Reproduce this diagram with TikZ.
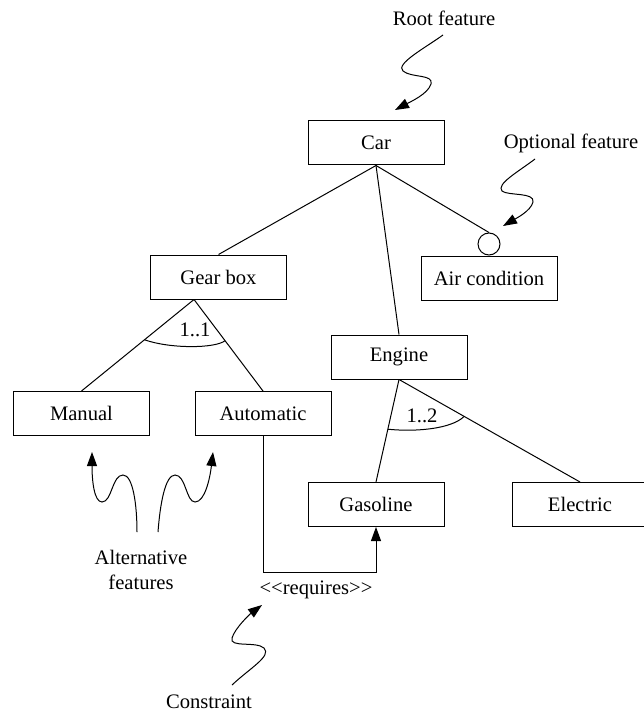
\documentclass[tikz,border=0pt]{standalone}
\usepackage{fontspec}
\setmainfont{Liberation Serif}
\usetikzlibrary{arrows.meta,calc}
\begin{document}
\begin{tikzpicture}[x=0.5pt,y=-0.5pt,
  font=\fontsize{10.3}{12.4}\selectfont,
  feature/.style={draw, line width=0.5pt, minimum width=68pt, minimum height=22pt, inner sep=0pt},
  optmark/.style={draw, line width=0.5pt, circle, minimum size=11pt, inner sep=0pt},
  link/.style={line width=0.5pt},
  note/.style={inner sep=0pt},
  pointer/.style={line width=0.5pt, -{Triangle[length=7pt,width=5pt]}},
]
\useasboundingbox (0,0) rectangle (643,711);

% feature boxes
\node[feature] (car) at (376,143) {Car};
\node[feature] (gb)  at (218.5,277) {Gear box};
\node[feature] (ac)  at (489,278) {Air condition};
\node[optmark] (opt) at (489,244) {};
\node[feature] (eng) at (399,357) {Engine};
\node[feature] (man) at (81.5,413.5) {Manual};
\node[feature] (aut) at (263,413.5) {Automatic};
\node[feature] (gas) at (376,504.5) {Gasoline};
\node[feature] (ele) at (580,504.5) {Electric};

% branch points
\coordinate (gbx) at ($(gb.south west)+(44,0)$);
\coordinate (engx) at (eng.south);

% tree edges
\draw[link] (car.south) -- (gb.north);
\draw[link] (car.south) -- (eng.north);
\draw[link] (car.south) -- (opt.north);
\draw[link] (gbx) -- (man.north);
\draw[link] (gbx) -- (aut.north);
\draw[link] (engx) -- (gas.north);
\draw[link] (engx) -- (ele.north);

% group cardinalities
\draw[link] ($(gbx)!0.44!(man.north)$) .. controls +(25,9) and +(-10,8) .. ($(gbx)!0.45!(aut.north)$);
\node[note] (card1) at (195,330) {1..1};
\draw[link] ($(engx)!0.485!(gas.north)$) .. controls +(30,3) and +(-12,12) .. ($(engx)!0.36!(ele.north)$);
\node[note] (card2) at (422,416) {1..2};

% requires constraint
\coordinate (reqBend) at (376,572);
\draw[pointer] (aut.south) |- (reqBend) -- (gas.south);
\node[note] (req) at (316,590) {<{}<requires>{}>};

% annotations
\node[note] (root) at (444,18) {Root feature};
\coordinate (rootTail) at (443,35);
\coordinate (rootTip) at (395,110);
\draw[pointer] (rootTail) .. controls (425,48) and (395,64) .. (403,71)
  .. controls (411,78) and (434,74) .. (431,84)
  .. controls (428,94) and (410,102) .. (rootTip);

\node[note] (optional) at (571,143) {Optional feature};
\coordinate (optTail) at (535,159);
\coordinate (optTip) at (503,226);
\draw[pointer] (optTail) .. controls (518,172) and (496,184) .. (502,191)
  .. controls (508,196) and (535,192) .. (533,202)
  .. controls (531,211) and (515,219) .. (optTip);

\node[note, align=center] (alt) at (141,570) {Alternative\\features};
\coordinate (altTailL) at (137,532);
\coordinate (altTipL) at (92,452);
\draw[pointer] (altTailL) .. controls (137,505) and (133,475) .. (123,475)
  .. controls (112,475) and (112,502) .. (102,502)
  .. controls (94,502) and (92,480) .. (altTipL);
\coordinate (altTailR) at (158,532);
\coordinate (altTipR) at (213,452);
\draw[pointer] (altTailR) .. controls (160,505) and (165,475) .. (175,475)
  .. controls (186,475) and (186,502) .. (195,502)
  .. controls (205,502) and (210,478) .. (altTipR);

\node[note] (constraint) at (209,702) {Constraint};
\coordinate (conTail) at (232,685);
\coordinate (conTip) at (262,605);
\draw[pointer] (conTail) .. controls (250,668) and (272,656) .. (264,648)
  .. controls (256,641) and (229,648) .. (232,638)
  .. controls (235,628) and (250,614) .. (conTip);
\end{tikzpicture}
\end{document}
